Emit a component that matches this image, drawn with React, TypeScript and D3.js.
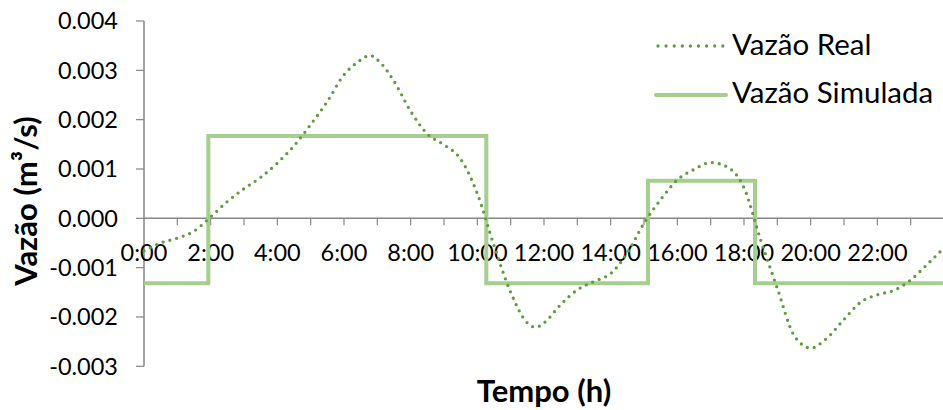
import React from "react";
import * as d3 from "d3";

const yTicks = [-0.003, -0.002, -0.001, 0, 0.001, 0.002, 0.003, 0.004];
const xLabelHours = [0, 2, 4, 6, 8, 10, 12, 14, 16, 18, 20, 22];
const xTickHours = d3.range(1, 25);

const realHours = [0, 0.5, 1, 1.5, 2, 2.5, 3, 3.5, 4, 4.5, 5, 5.5, 6, 6.4, 6.78, 7.1, 7.5, 8, 8.5, 9, 9.5, 10, 10.5, 11, 11.5, 11.75, 12, 12.5, 13, 13.5, 14, 14.5, 15, 15.5, 16, 16.5, 17, 17.5, 18, 18.5, 19, 19.5, 20, 20.5, 21, 21.5, 22, 22.5, 23, 23.5, 24];
const realValues = [-0.00066, -0.0005, -0.0004, -0.00026, 0.00003, 0.00034, 0.0006, 0.00083, 0.00112, 0.00147, 0.0019, 0.00237, 0.00291, 0.00316, 0.0033, 0.00315, 0.00278, 0.00217, 0.00171, 0.00149, 0.0012, 0.0005, -0.00055, -0.0015, -0.00212, -0.00221, -0.00212, -0.00175, -0.00145, -0.00128, -0.00112, -0.0007, -0.0001, 0.00038, 0.00078, 0.00099, 0.00113, 0.00104, 0.00062, -0.00044, -0.00142, -0.00237, -0.00263, -0.00242, -0.00205, -0.0017, -0.00155, -0.00146, -0.00125, -0.00093, -0.0006];

const simHours = [0, 1.93, 10.27, 15.12, 18.33, 24];
const simValues = [-0.001315, 0.00167, -0.001315, 0.00076, -0.001315, -0.001315];

const seriesNames = ["Vazão Real", "Vazão Simulada"];

const W = 943;
const H = 410;
const FONT = "Lato, 'Open Sans', 'Liberation Sans', sans-serif";
const AXIS = "#868686";
const REAL_COLOR = "#5E9C3C";
const SIM_COLOR = "#A6CE8E";

export default function App() {
  const x = d3.scaleLinear().domain([0, 24]).range([144, 944]);
  const y = d3.scaleLinear().domain([-0.003, 0.004]).range([366.3, 21]);

  const realLine = d3
    .line<number>()
    .x((_, i) => x(realHours[i]))
    .y((d) => y(d))
    .curve(d3.curveMonotoneX)(realValues) as string;

  const simLine = d3
    .line<number>()
    .x((_, i) => x(simHours[i]))
    .y((d) => y(d))
    .curve(d3.curveStepAfter)(simValues) as string;

  const y0 = y(0);

  return (
    <div style={{ position: "absolute", left: 0, top: 0 }}>
      <svg width={W} height={H} style={{ display: "block", fontFamily: FONT }}>
        <rect width={W} height={H} fill="#fff" />
        {/* Y axis */}
        <line x1={x(0)} x2={x(0)} y1={y(0.004)} y2={y(-0.003)} stroke={AXIS} strokeWidth={1.5} />
        {yTicks.map((t) => (
          <g key={t}>
            <line x1={x(0) - 8} x2={x(0)} y1={y(t)} y2={y(t)} stroke={AXIS} strokeWidth={1.2} />
            <text x={118} y={y(t)} dy="0.35em" textAnchor="end" fontSize={23.5} fill="#000">
              {d3.format(".3f")(t).replace("−", "-")}
            </text>
          </g>
        ))}
        {/* X axis */}
        <line x1={x(0)} x2={W} y1={y0} y2={y0} stroke={AXIS} strokeWidth={1.5} />
        {xTickHours.map((h) => (
          <line key={h} x1={x(h)} x2={x(h)} y1={y0} y2={y0 + 7} stroke={AXIS} strokeWidth={1.2} />
        ))}
        {xLabelHours.map((h) => (
          <text key={h} x={x(h)} y={253} dy="0.35em" textAnchor="middle" fontSize={23.5} fill="#000">
            {`${h}:00`}
          </text>
        ))}
        {/* Series */}
        <path d={simLine} fill="none" stroke={SIM_COLOR} strokeWidth={4} strokeLinejoin="miter" />
        <path
          d={realLine}
          fill="none"
          stroke={REAL_COLOR}
          strokeWidth={3.3}
          strokeLinecap="round"
          strokeDasharray="0 7"
        />
        {/* Legend */}
        <line x1={658} x2={723} y1={46} y2={46} stroke={REAL_COLOR} strokeWidth={3.3} strokeLinecap="round" strokeDasharray="0 8.1" />
        <text x={732} y={55} fontSize={29.5} fill="#000">{seriesNames[0]}</text>
        <line x1={656} x2={726} y1={95} y2={95} stroke={SIM_COLOR} strokeWidth={4} strokeLinecap="round" />
        <text x={732} y={102.7} fontSize={29.5} fill="#000">{seriesNames[1]}</text>
        {/* Axis titles */}
        <text x={544} y={402} textAnchor="middle" fontSize={31} fontWeight="bold" fill="#000">
          Tempo (h)
        </text>
        <text
          transform={`translate(36.7, 201) rotate(-90)`}
          textAnchor="middle"
          fontSize={31}
          fontWeight="bold"
          fill="#000"
        >
          Vazão (m³/s)
        </text>
      </svg>
    </div>
  );
}
